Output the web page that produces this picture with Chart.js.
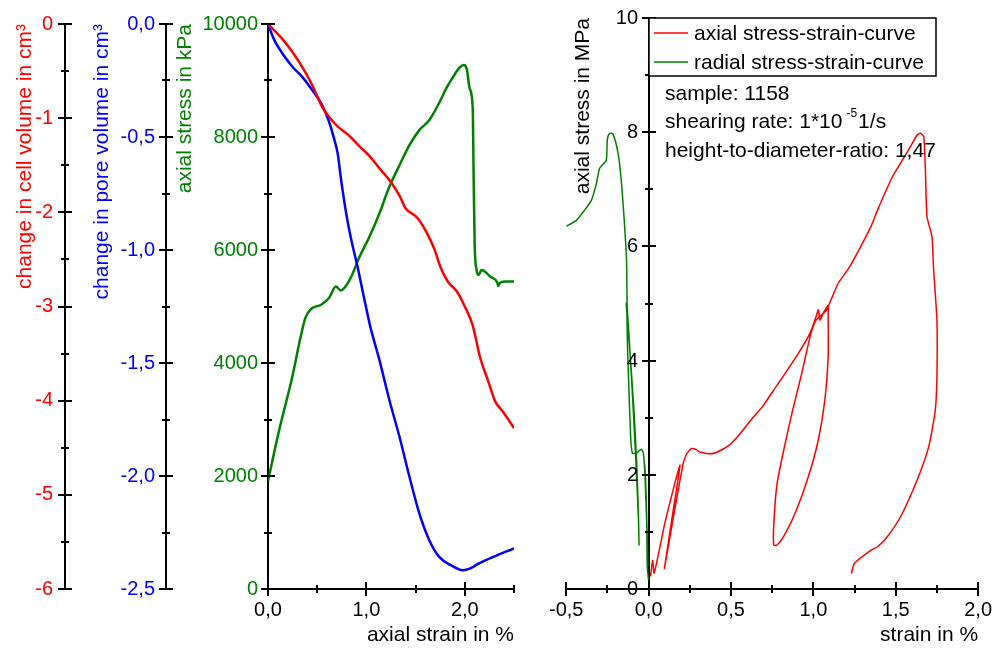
<!DOCTYPE html>
<html>
<head>
<meta charset="utf-8">
<title>Sample 1158 - volume change and stress-strain curves</title>
<script src="https://cdn.jsdelivr.net/npm/chart.js@4.4.1/dist/chart.umd.min.js"></script>
<style>
  html, body { margin: 0; padding: 0; background: #fff; }
  .panel { position: absolute; top: 0; height: 648px; }
  #leftPanel { left: 0; width: 540px; }
  #rightPanel { left: 540px; width: 461px; }
</style>
</head>
<body>
<div class="panel" id="leftPanel"><canvas id="volumeChart"></canvas></div>
<div class="panel" id="rightPanel"><canvas id="strainChart"></canvas></div>
<script>
// ---- left panel: volume change and axial stress vs axial strain ----
const cellStrain = [0, 0.13, 0.25, 0.35, 0.45, 0.55, 0.69, 0.83, 0.93, 1.03, 1.13, 1.25, 1.34, 1.40,
    1.51, 1.61, 1.69, 1.76, 1.83, 1.92, 2.00, 2.08, 2.12, 2.15, 2.24, 2.31, 2.39, 2.50];
const cellVolume = [0, -0.14, -0.30, -0.46, -0.65, -0.88, -1.07, -1.19, -1.30, -1.40, -1.53, -1.68, -1.83, -1.96,
    -2.05, -2.21, -2.39, -2.60, -2.74, -2.84, -3.00, -3.20, -3.38, -3.52, -3.80, -4.01, -4.12, -4.29];

const poreStrain = [0, 0.06, 0.15, 0.25, 0.35, 0.45, 0.55, 0.62, 0.67, 0.71, 0.74, 0.79, 0.84, 0.91, 0.98,
    1.04, 1.13, 1.23, 1.34, 1.44, 1.54, 1.64, 1.74, 1.86, 1.98, 2.05, 2.14, 2.29, 2.50];
const poreVolume = [0, -0.067, -0.133, -0.19, -0.235, -0.293, -0.359, -0.432, -0.505, -0.578, -0.68, -0.826,
    -0.943, -1.074, -1.22, -1.34, -1.483, -1.658, -1.833, -2.008, -2.169, -2.285, -2.358, -2.395, -2.417,
    -2.41, -2.388, -2.358, -2.32];

const stressStrain = [0, 0.11, 0.25, 0.33, 0.38, 0.44, 0.54, 0.62, 0.69, 0.74, 0.83, 0.93, 1.03, 1.13, 1.23,
    1.34, 1.44, 1.54, 1.64, 1.745, 1.81, 1.88, 1.95, 1.99, 2.02, 2.05, 2.08, 2.09, 2.10, 2.12, 2.14, 2.17,
    2.26, 2.33, 2.34, 2.36, 2.42, 2.50];
const stressKpa = [1909, 2785, 3780, 4450, 4800, 4960, 5032, 5149, 5354, 5284, 5470, 5879, 6229, 6637, 7105,
    7513, 7863, 8126, 8301, 8622, 8855, 9060, 9235, 9276, 9206, 8855, 8534, 7280, 6112, 5645, 5557, 5645,
    5528, 5424, 5365, 5424, 5441, 5441];

// ---- right panel: axial and radial stress-strain curves ----
const axialStrain = [0.012, 0.024, 0.034, 0.10, 0.19, 0.14, 0.096, 0.15, 0.21, 0.23, 0.26, 0.29, 0.31, 0.37,
    0.41, 0.49, 0.55, 0.63, 0.69, 0.78, 0.83, 0.91, 0.98, 1.02, 1.03, 1.04, 1.06, 1.09, 1.09, 1.09, 1.07,
    1.03, 0.97, 0.89, 0.82, 0.78, 0.76, 0.76, 0.78, 0.82, 0.87, 0.93, 0.98, 1.01, 1.03, 1.08, 1.15, 1.22,
    1.35, 1.39, 1.48, 1.54, 1.59, 1.63, 1.65, 1.67, 1.68, 1.69, 1.72, 1.73, 1.75, 1.75, 1.74, 1.70, 1.63,
    1.53, 1.45, 1.39, 1.35, 1.25, 1.23];
const axialStress = [0.22, 0.50, 0.28, 1.17, 2.17, 1.20, 0.36, 1.25, 2.20, 2.36, 2.46, 2.44, 2.40, 2.37,
    2.39, 2.52, 2.70, 2.99, 3.19, 3.57, 3.78, 4.13, 4.48, 4.80, 4.89, 4.71, 4.83, 4.97, 4.80, 4.07, 3.31,
    2.61, 1.97, 1.33, 0.92, 0.77, 0.77, 1.15, 1.85, 2.43, 3.08, 3.78, 4.42, 4.68, 4.75, 4.89, 5.35, 5.64,
    6.35, 6.64, 7.22, 7.51, 7.75, 7.95, 7.98, 7.92, 7.34, 6.52, 6.17, 5.59, 4.71, 3.72, 3.13, 2.49, 1.91,
    1.27, 0.92, 0.74, 0.68, 0.45, 0.27];

const radialStrain = [0.0, -0.008, -0.012, -0.018, -0.024, -0.012, -0.004, -0.012, -0.022, -0.032, -0.044,
    -0.058, -0.072, -0.098, -0.108, -0.118, -0.128, -0.132, -0.136, -0.108, -0.088, -0.072, -0.062, -0.058,
    -0.062, -0.080, -0.100, -0.118, -0.130, -0.134, -0.148, -0.168, -0.187, -0.217, -0.237, -0.251, -0.257,
    -0.297, -0.317, -0.347, -0.387, -0.437, -0.500];
const radialStress = [0.15, 0.39, 1.33, 1.91, 2.17, 1.20, 0.40, 1.30, 2.00, 2.38, 2.45, 2.42, 2.38, 2.38,
    2.61, 3.37, 4.24, 4.83, 5.00, 3.95, 3.08, 2.20, 1.33, 0.77, 1.25, 2.40, 3.50, 4.40, 4.95, 5.76, 6.46,
    7.22, 7.66, 7.97, 7.98, 7.86, 7.51, 7.37, 7.10, 6.81, 6.64, 6.46, 6.35];

const noteLines = ['sample: 1158', ['shearing rate: 1*10', '-5', '1/s'], 'height-to-diameter-ratio: 1,47'];

const RED = '#ff0000';
const BLUE = '#0000ff';
const GREEN = '#008000';
const FONT = "'Liberation Sans', Arial, Helvetica, sans-serif";

Chart.defaults.font.family = FONT;
Chart.defaults.font.size = 20;
Chart.defaults.color = '#000';

const zip = (xs, ys) => xs.map((x, i) => ({ x: x, y: ys[i] }));
const comma = v => v.toFixed(1).replace('.', ',');
const onStep = (v, step) => Math.abs(v / step - Math.round(v / step)) < 1e-6;

// ticks crossing the axis line, long for labelled ticks, short for the others.
// An axis placed inside the plot (position {x: 0}) gets its labels drawn here too,
// since Chart.js puts those flush against the line.
const crossTicks = {
    id: 'crossTicks',
    afterDraw(chart) {
        const ctx = chart.ctx;
        ctx.save();
        Object.values(chart.scales).forEach(scale => {
            if (!scale.options.border.display) return;
            const pos = scale.options.position;
            const inner = typeof pos === 'object';
            let axisPx;
            if (scale.isHorizontal()) {
                axisPx = scale.top;
            } else if (inner) {
                const id = Object.keys(pos)[0];
                axisPx = chart.scales[id].getPixelForValue(pos[id]);
            } else {
                axisPx = pos === 'left' ? scale.right : scale.left;
            }
            axisPx = Math.round(axisPx);
            scale.ticks.forEach(t => {
                const p = Math.round(scale.getPixelForValue(t.value));
                const len = t.label === '' ? 4 : 7;
                ctx.strokeStyle = '#000';
                ctx.lineWidth = 2;
                ctx.beginPath();
                if (scale.isHorizontal()) {
                    ctx.moveTo(p, axisPx - len);
                    ctx.lineTo(p, axisPx + len);
                } else {
                    ctx.moveTo(axisPx - len, p);
                    ctx.lineTo(axisPx + len, p);
                }
                ctx.stroke();
                if (inner && !scale.options.ticks.display && t.label !== '') {
                    ctx.font = '20px ' + FONT;
                    ctx.fillStyle = scale.options.ticks.color;
                    ctx.textAlign = 'right';
                    ctx.textBaseline = 'middle';
                    ctx.fillText(t.label, axisPx - scale.options.ticks.padding, p);
                }
            });
        });
        ctx.restore();
    }
};

// framed legend plus the sample notes, anchored at the strain = 0 axis
const legendNotes = {
    id: 'legendNotes',
    afterDraw(chart) {
        const ctx = chart.ctx;
        const x0 = Math.round(chart.scales.x.getPixelForValue(0));
        const top = chart.chartArea.top;
        ctx.save();
        ctx.fillStyle = '#fff';
        ctx.fillRect(x0, top, 287, 58);
        ctx.strokeStyle = '#000';
        ctx.lineWidth = 1.5;
        ctx.strokeRect(x0, top, 287, 58);
        ctx.font = '21px ' + FONT;
        ctx.textAlign = 'left';
        ctx.textBaseline = 'alphabetic';
        chart.data.datasets.forEach((ds, i) => {
            const y = top + 15 + i * 29;
            ctx.strokeStyle = ds.borderColor;
            ctx.beginPath();
            ctx.moveTo(x0 + 5, y);
            ctx.lineTo(x0 + 39, y);
            ctx.stroke();
            ctx.fillStyle = '#000';
            ctx.fillText(ds.label, x0 + 45, y + 6.5);
        });
        noteLines.forEach((line, i) => {
            const y = top + 82 + i * 28.4;
            let x = x0 + 16;
            ctx.fillStyle = '#000';
            if (Array.isArray(line)) {
                ctx.font = '21px ' + FONT;
                ctx.fillText(line[0], x, y);
                x += ctx.measureText(line[0]).width + 4;
                ctx.font = '12px ' + FONT;
                ctx.fillText(line[1], x, y - 11);
                x += ctx.measureText(line[1]).width + 1;
                ctx.font = '21px ' + FONT;
                ctx.fillText(line[2], x, y);
            } else {
                ctx.font = '21px ' + FONT;
                ctx.fillText(line, x, y);
            }
        });
        ctx.restore();
    }
};

function valueAxis(opts) {
    return {
        type: 'linear',
        position: opts.position,
        weight: opts.weight || 0,
        min: opts.min,
        max: opts.max,
        ticks: {
            display: opts.showLabels !== false,
            stepSize: opts.step,
            maxTicksLimit: 100,
            autoSkip: false,
            maxRotation: 0,
            padding: opts.padding,
            color: opts.color,
            callback: opts.label
        },
        grid: { display: false, drawTicks: false },
        border: { display: true, color: '#000', width: 2 },
        title: opts.title ? {
            display: true,
            text: opts.title,
            color: opts.color,
            align: 'end',
            font: { size: 21 },
            padding: opts.titlePadding
        } : { display: false },
        afterFit: opts.afterFit
    };
}

new Chart(document.getElementById('volumeChart'), {
    type: 'scatter',
    data: {
        datasets: [
            { label: 'change in cell volume', data: zip(cellStrain, cellVolume), yAxisID: 'yCell',
              borderColor: RED, borderWidth: 2.5, showLine: true, pointRadius: 0, fill: false,
              cubicInterpolationMode: 'monotone' },
            { label: 'change in pore volume', data: zip(poreStrain, poreVolume), yAxisID: 'yPore',
              borderColor: BLUE, borderWidth: 2.5, showLine: true, pointRadius: 0, fill: false,
              cubicInterpolationMode: 'monotone' },
            { label: 'axial stress', data: zip(stressStrain, stressKpa), yAxisID: 'yStress',
              borderColor: GREEN, borderWidth: 2.5, showLine: true, pointRadius: 0, fill: false,
              cubicInterpolationMode: 'monotone' }
        ]
    },
    options: {
        responsive: true,
        maintainAspectRatio: false,
        animation: false,
        events: [],
        layout: { padding: { left: 0, top: 18, right: 26, bottom: 0 } },
        plugins: { legend: { display: false }, tooltip: { enabled: false } },
        scales: {
            x: valueAxis({
                position: 'bottom', min: 0, max: 2.5, step: 0.5, padding: 9, color: '#000',
                label: v => Number.isInteger(v) ? comma(v) : '',
                title: 'axial strain in %', titlePadding: { top: 0, bottom: 0 },
                afterFit: s => { s.height = 59; }
            }),
            yCell: valueAxis({
                position: 'left', weight: 3, min: -6, max: 0, step: 0.5, padding: 12, color: RED,
                label: v => Number.isInteger(v) ? String(v) : '',
                title: 'change in cell volume in cm³', titlePadding: { top: 13, bottom: 0 },
                afterFit: s => { s.width = 65; }
            }),
            yPore: valueAxis({
                position: 'left', weight: 2, min: -2.5, max: 0, step: 0.25, padding: 11, color: BLUE,
                label: v => onStep(v, 0.5) ? comma(v) : '',
                title: 'change in pore volume in cm³', titlePadding: { top: 25, bottom: 0 },
                afterFit: s => { s.width = 101; }
            }),
            yStress: valueAxis({
                position: 'left', weight: 1, min: 0, max: 10000, step: 1000, padding: 10, color: GREEN,
                label: v => v % 2000 === 0 ? String(v) : '',
                title: 'axial stress in kPa', titlePadding: { top: 7, bottom: 0 },
                afterFit: s => { s.width = 102; }
            })
        }
    },
    plugins: [crossTicks]
});

new Chart(document.getElementById('strainChart'), {
    type: 'scatter',
    data: {
        datasets: [
            { label: 'axial stress-strain-curve', data: zip(axialStrain, axialStress), yAxisID: 'y',
              borderColor: RED, borderWidth: 1.5, showLine: true, pointRadius: 0, fill: false, tension: 0.2 },
            { label: 'radial stress-strain-curve', data: zip(radialStrain, radialStress), yAxisID: 'y',
              borderColor: GREEN, borderWidth: 1.5, showLine: true, pointRadius: 0, fill: false, tension: 0.2 }
        ]
    },
    options: {
        responsive: true,
        maintainAspectRatio: false,
        animation: false,
        events: [],
        layout: { padding: { left: 25, top: 18, right: 18, bottom: 0 } },
        plugins: { legend: { display: false }, tooltip: { enabled: false } },
        scales: {
            x: valueAxis({
                position: 'bottom', min: -0.5, max: 2, step: 0.25, padding: 9, color: '#000',
                label: v => onStep(v, 0.5) ? comma(v) : '',
                title: 'strain in %', titlePadding: { top: 0, bottom: 0 },
                afterFit: s => { s.height = 59; }
            }),
            y: valueAxis({
                position: { x: 0 }, min: 0, max: 10, step: 1, padding: 11, color: '#000',
                showLabels: false,
                label: v => v % 2 === 0 ? String(v) : ''
            }),
            // carries only the axis title, to the left of the plot
            yTitle: {
                type: 'linear',
                position: 'left',
                min: 0,
                max: 10,
                ticks: { display: false },
                grid: { display: false, drawTicks: false },
                border: { display: false },
                title: { display: true, text: 'axial stress in MPa', align: 'end', font: { size: 21 },
                         padding: { top: 4, bottom: 0 } },
                afterFit: s => { s.width = 0; }
            }
        }
    },
    plugins: [crossTicks, legendNotes]
});
</script>
</body>
</html>
